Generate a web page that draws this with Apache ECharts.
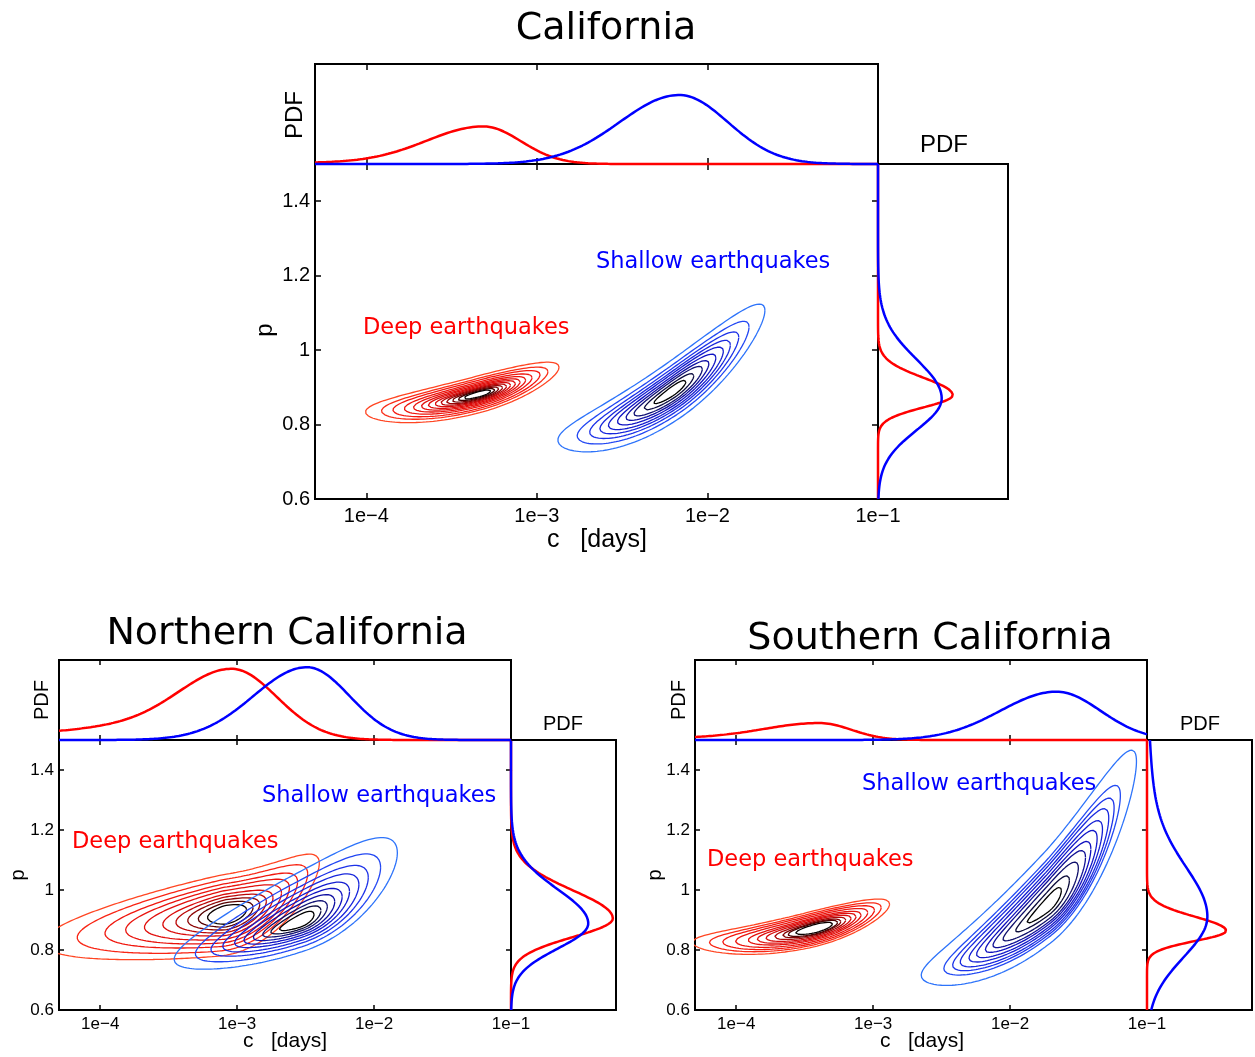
<!DOCTYPE html>
<html><head><meta charset="utf-8">
<script src="https://cdn.jsdelivr.net/npm/echarts@6/dist/echarts.min.js"></script>
<style>html,body{margin:0;padding:0;background:#fff}#chart{width:1255px;height:1057px}</style>
</head><body><div id="chart"></div>
<script>
// ---------------- data ----------------
const LOG_C_MIN = -4.30103;   // log10(5e-5)
const LOG_C_MAX = -1;         // log10(1e-1)
const P_MIN = 0.6, P_MAX = 1.5;

const panelTitles = ['California', 'Northern California', 'Southern California'];
const seriesNames = ['Deep earthquakes', 'Shallow earthquakes'];
const xTickValues = [-4, -3, -2, -1];
const xTickLabels = ['1e\u22124', '1e\u22123', '1e\u22122', '1e\u22121'];
const yTickValues = [0.6, 0.8, 1.0, 1.2, 1.4];
const yTickLabels = ['0.6', '0.8', '1', '1.2', '1.4'];

// contour shape:
// [log10 c centre, p centre, left reach (dec), right reach (dec), left tail power,
//  p half-width, slope dp/dlog c, curvature left, curvature right, half-width skew, inner-centre p shift]
const calDeepContour    = [-3.335, 0.882, 0.67, 0.465, 1.0, 0.050, 0.121, 0.073, 0.073, 0, 0];
const calShallowContour = [-2.211, 0.888, 0.666, 0.548, 1.0, 0.085, 0.307, 0.168, 0.168, 0.15, 0];
const norDeepContour    = [-3.09, 0.917, 1.33, 0.69, 1.6, 0.135, 0.07, 0.0, 0.26, 0, 0];
const norShallowContour = [-2.55, 0.925, 0.91, 0.72, 1.0, 0.134, 0.19, 0.02, 0.12, 0.3, -0.035];
const souDeepContour    = [-3.42, 0.872, 0.90, 0.54, 1.24, 0.060, 0.113, 0.068, 0.068, 0, 0];
const souShallowContour = [-1.73, 0.975, 0.919, 0.653, 1.0, 0.160, 0.42, 0.15, 0.42, 0.4, -0.03];

// relative size of each contour line (outermost = 1)
const calDeepLevels    = [1, 0.86, 0.76, 0.66, 0.58, 0.51, 0.45, 0.39, 0.34, 0.29, 0.24, 0.19, 0.14];
const calShallowLevels = [1, 0.83, 0.72, 0.63, 0.555, 0.475, 0.40, 0.33, 0.24, 0.155];
const norDeepLevels    = [1, 0.877, 0.77, 0.684, 0.6, 0.51, 0.44, 0.37, 0.30, 0.23];
const norShallowLevels = [1, 0.83, 0.705, 0.61, 0.515, 0.44, 0.365, 0.29, 0.225, 0.155];
const souDeepLevels    = [1, 0.887, 0.796, 0.706, 0.615, 0.547, 0.48, 0.41, 0.344, 0.3, 0.23];
const souShallowLevels = [1, 0.82, 0.75, 0.69, 0.62, 0.56, 0.49, 0.43, 0.35, 0.25, 0.16];

// marginal PDFs: components [mode, spread below, spread above, height (fraction of panel)]
const calDeepTopPdf      = [[-3.314, 0.33, 0.22, 0.357], [-3.314, 1.0, 0.22, 0.019]];
const calShallowTopPdf   = [[-2.165, 0.35, 0.285, 0.69]];
const calDeepRightPdf    = [[0.879, 0.033, 0.047, 0.575]];
const calShallowRightPdf = [[0.870, 0.085, 0.105, 0.49]];
const norDeepTopPdf      = [[-3.041, 0.37, 0.33, 0.64], [-3.041, 1.0, 0.33, 0.25]];
const norShallowTopPdf   = [[-2.49, 0.39, 0.31, 0.91]];
const norDeepRightPdf    = [[0.905, 0.062, 0.094, 0.97]];
const norShallowRightPdf = [[0.888, 0.083, 0.114, 0.736]];
const souDeepTopPdf      = [[-3.393, 0.40, 0.233, 0.18], [-3.393, 1.2, 0.233, 0.032]];
const souShallowTopPdf   = [[-1.66, 0.41, 0.32, 0.604]];
const souDeepRightPdf    = [[0.864, 0.034, 0.047, 0.754]];
const souShallowRightPdf = [[0.911, 0.135, 0.16, 0.46], [0.911, 0.135, 0.35, 0.115]];

// ---------------- helpers ----------------
function contourLine(par, r, n) {
  const [c0, p0, suL, suR, gL, sw, a, qL, qR, k, dr] = par;
  const pc = p0 + (1 - r) * dr;
  const pts = [];
  for (let i = 0; i <= n; i++) {
    const t = 2 * Math.PI * i / n;
    const ct = Math.cos(t), st = Math.sin(t);
    const u = ct >= 0 ? r * suR * ct : -suL * Math.pow(r * (-ct), gL);
    const q = u >= 0 ? qR : qL;
    pts.push([c0 + u, pc + a * u + q * u * u + r * sw * (1 + k * ct) * st]);
  }
  return pts;
}
function pdfValue(comps, v) {
  let s = 0;
  for (const [mu, sLo, sHi, amp] of comps) {
    const d = v - mu, sg = d < 0 ? sLo : sHi;
    s += amp * Math.exp(-0.5 * d * d / (sg * sg));
  }
  return s;
}
function topCurve(comps) {
  const out = [], n = 400;
  for (let i = 0; i <= n; i++) {
    const v = LOG_C_MIN + (LOG_C_MAX - LOG_C_MIN) * i / n;
    out.push([v, pdfValue(comps, v)]);
  }
  return out;
}
function rightCurve(comps) {
  const out = [], n = 400;
  for (let i = 0; i <= n; i++) {
    const v = P_MIN + (P_MAX - P_MIN) * i / n;
    out.push([pdfValue(comps, v), v]);
  }
  return out;
}
const redStops  = [[0, [255, 70, 35]], [0.15, [245, 25, 15]], [0.6, [215, 10, 10]], [0.85, [110, 0, 0]], [1, [10, 0, 0]]];
const blueStops = [[0, [45, 115, 250]], [0.15, [30, 55, 240]], [0.6, [15, 15, 190]], [0.85, [15, 15, 85]], [1, [0, 0, 0]]];
function stopColor(stops, t) {
  for (let i = 1; i < stops.length; i++) {
    if (t <= stops[i][0]) {
      const [t0, c0] = stops[i - 1], [t1, c1] = stops[i];
      const f = (t - t0) / (t1 - t0);
      const c = c0.map((v, k) => Math.round(v + (c1[k] - v) * f));
      return 'rgb(' + c.join(',') + ')';
    }
  }
  return 'rgb(' + stops[stops.length - 1][1].join(',') + ')';
}

// ---------------- layout ----------------
const panels = [
  { title: panelTitles[0], box: { l: 315, t: 164, w: 563, h: 335 }, topH: 100, rightW: 130,
    tickLen: 6, tickFont: 20, labelFont: 24, xMargin: 7,
    deep: [calDeepContour, calDeepLevels, calDeepTopPdf, calDeepRightPdf],
    shallow: [calShallowContour, calShallowLevels, calShallowTopPdf, calShallowRightPdf],
    txt: { title: [606, 29], pdfTop: [295, 115], pdfRight: [944, 145], p: [265, 330], c: [597, 540],
           deep: [363, 328], shallow: [596, 262] } },
  { title: panelTitles[1], box: { l: 59, t: 740, w: 452, h: 270 }, topH: 80, rightW: 105,
    tickLen: 5, tickFont: 17, labelFont: 20, xMargin: 6,
    deep: [norDeepContour, norDeepLevels, norDeepTopPdf, norDeepRightPdf],
    shallow: [norShallowContour, norShallowLevels, norShallowTopPdf, norShallowRightPdf],
    txt: { title: [287, 634], pdfTop: [42, 700], pdfRight: [563, 724], p: [18, 875], c: [285, 1041],
           deep: [72, 842], shallow: [262, 796] } },
  { title: panelTitles[2], box: { l: 695, t: 740, w: 452, h: 270 }, topH: 80, rightW: 105,
    tickLen: 5, tickFont: 17, labelFont: 20, xMargin: 6,
    deep: [souDeepContour, souDeepLevels, souDeepTopPdf, souDeepRightPdf],
    shallow: [souShallowContour, souShallowLevels, souShallowTopPdf, souShallowRightPdf],
    txt: { title: [930, 639], pdfTop: [679, 700], pdfRight: [1200, 724], p: [655, 875], c: [922, 1041],
           deep: [707, 860], shallow: [862, 784] } }
];

const grids = [], xAxes = [], yAxes = [], series = [], graphics = [];
const RED = '#ff0000', BLUE = '#0000ff';
function push(arr, o) { arr.push(o); return arr.length - 1; }
function idx(vals, v) { return vals.findIndex(t => Math.abs(t - v) < 1e-6); }

panels.forEach(P => {
  const b = P.box;
  const gridBase = { show: true, borderColor: '#000', borderWidth: 2, backgroundColor: 'transparent', containLabel: false };
  const gMain = push(grids, Object.assign({ left: b.l, top: b.t, width: b.w, height: b.h }, gridBase));
  const gTop = push(grids, Object.assign({ left: b.l, top: b.t - P.topH, width: b.w, height: P.topH }, gridBase));
  const gRight = push(grids, Object.assign({ left: b.l + b.w, top: b.t, width: P.rightW, height: b.h }, gridBase));
  const tick = vals => ({ show: true, inside: true, length: P.tickLen, customValues: vals, lineStyle: { color: '#000', width: 1.5 } });
  const noLabel = { show: false };
  const common = { axisLine: { show: false }, splitLine: { show: false } };

  const xMain = push(xAxes, Object.assign({ type: 'value', gridIndex: gMain, min: LOG_C_MIN, max: LOG_C_MAX, position: 'bottom',
    axisTick: tick(xTickValues),
    axisLabel: { customValues: xTickValues, formatter: v => xTickLabels[idx(xTickValues, v)], margin: P.xMargin,
      fontFamily: 'Liberation Sans', fontSize: P.tickFont, color: '#000' } }, common));
  push(xAxes, Object.assign({ type: 'value', gridIndex: gMain, min: LOG_C_MIN, max: LOG_C_MAX, position: 'top',
    axisTick: tick(xTickValues), axisLabel: noLabel }, common));
  const yMain = push(yAxes, Object.assign({ type: 'value', gridIndex: gMain, min: P_MIN, max: P_MAX, position: 'left',
    axisTick: tick(yTickValues),
    axisLabel: { customValues: yTickValues, formatter: v => yTickLabels[idx(yTickValues, v)], margin: 5,
      fontFamily: 'Liberation Sans', fontSize: P.tickFont, color: '#000' } }, common));
  push(yAxes, Object.assign({ type: 'value', gridIndex: gMain, min: P_MIN, max: P_MAX, position: 'right',
    axisTick: tick(yTickValues), axisLabel: noLabel }, common));

  const xTop = push(xAxes, Object.assign({ type: 'value', gridIndex: gTop, min: LOG_C_MIN, max: LOG_C_MAX, position: 'bottom',
    axisTick: tick(xTickValues), axisLabel: noLabel }, common));
  push(xAxes, Object.assign({ type: 'value', gridIndex: gTop, min: LOG_C_MIN, max: LOG_C_MAX, position: 'top',
    axisTick: tick(xTickValues), axisLabel: noLabel }, common));
  const yTop = push(yAxes, { type: 'value', gridIndex: gTop, min: 0, max: 1, show: false });

  const xRight = push(xAxes, { type: 'value', gridIndex: gRight, min: 0, max: 1, show: false });
  const yRight = push(yAxes, Object.assign({ type: 'value', gridIndex: gRight, min: P_MIN, max: P_MAX, position: 'right',
    axisTick: tick(yTickValues), axisLabel: noLabel }, common));

  // contours
  [[P.deep, redStops], [P.shallow, blueStops]].forEach(([grp, stops]) => {
    const [par, levels] = grp;
    levels.forEach((r, k) => {
      series.push({ type: 'line', xAxisIndex: xMain, yAxisIndex: yMain, data: contourLine(par, r, 360),
        showSymbol: false, symbol: 'none', silent: true, z: 2,
        lineStyle: { color: stopColor(stops, k / (levels.length - 1)), width: 1.3 } });
    });
  });
  // marginals (deep first, shallow on top)
  [[P.deep, RED], [P.shallow, BLUE]].forEach(([grp, col]) => {
    series.push({ type: 'line', xAxisIndex: xTop, yAxisIndex: yTop, data: topCurve(grp[2]), showSymbol: false, symbol: 'none',
      silent: true, clip: false, z: 5, lineStyle: { color: col, width: 2.5 } });
    series.push({ type: 'line', xAxisIndex: xRight, yAxisIndex: yRight, data: rightCurve(grp[3]), showSymbol: false, symbol: 'none',
      silent: true, clip: false, z: 5, lineStyle: { color: col, width: 2.5 } });
  });

  const T = P.txt;
  const txt = (pos, text, font, size, color, opts) => Object.assign({ type: 'text', x: pos[0], y: pos[1], z: 10,
    style: { text: text, fontFamily: font, fontSize: size, fill: color, align: 'center', verticalAlign: 'middle' } }, opts || {});
  graphics.push(txt(T.title, P.title, 'DejaVu Sans', 38, '#000'));
  graphics.push(txt(T.pdfTop, 'PDF', 'Liberation Sans', P.labelFont, '#000', { rotation: Math.PI / 2 }));
  graphics.push(txt(T.pdfRight, 'PDF', 'Liberation Sans', P.labelFont, '#000'));
  graphics.push(txt(T.p, 'p', 'Liberation Sans', P.labelFont, '#000', { rotation: Math.PI / 2 }));
  graphics.push(txt(T.c, 'c   [days]', 'Liberation Sans', P.labelFont + 1, '#000'));
  const d = txt(T.deep, seriesNames[0], 'DejaVu Sans', 22.5, RED); d.style.align = 'left'; graphics.push(d);
  const s = txt(T.shallow, seriesNames[1], 'DejaVu Sans', 22.5, BLUE); s.style.align = 'left'; graphics.push(s);
});

const chart = echarts.init(document.getElementById('chart'), null, { renderer: 'canvas' });
chart.setOption({
  animation: false,
  backgroundColor: '#fff',
  grid: grids, xAxis: xAxes, yAxis: yAxes, series: series,
  graphic: { elements: graphics }
});
</script></body></html>
